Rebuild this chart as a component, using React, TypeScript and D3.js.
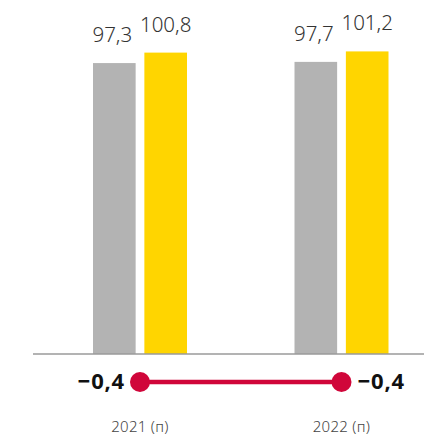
import React from "react";
import * as d3 from "d3";

const categories = ["2021 (п)", "2022 (п)"];
const seriesGray = [97.3, 97.7];
const seriesYellow = [100.8, 101.2];
const diffValues = [-0.4, -0.4];

const W = 424;
const H = 435;

const fmt = (v: number) => v.toFixed(1).replace(".", ",").replace("-", "\u2212");

export default function App() {
  const x = d3.scaleBand<string>().domain(categories).range([39.25, 442.25]).paddingInner(0).paddingOuter(0);
  const inner = d3.scaleBand<string>().domain(["g", "y"]).range([0, 94]).paddingInner(0.17);
  const y = d3.scaleLinear().domain([0, 100]).range([354, 55]);
  const colors: Record<string, string> = { g: "#b3b3b3", y: "#ffd500" };
  const lineY = 382;
  const cx = (c: string) => (x(c) as number) + x.bandwidth() / 2;
  const font = "'Noto Sans', 'Open Sans', sans-serif";

  return (
    <svg width={W} height={H} style={{ position: "absolute", left: 0, top: 0, background: "#fff" }}>
      {categories.map((c, i) => {
        const x0 = cx(c) - 47;
        const vals: [string, number][] = [["g", seriesGray[i]], ["y", seriesYellow[i]]];
        return (
          <g key={c}>
            {vals.map(([k, v]) => (
              <g key={k}>
                <rect x={x0 + (inner(k) as number)} y={y(v)} width={inner.bandwidth()} height={y(0) - y(v)} fill={colors[k]} />
                <text
                  x={x0 + (inner(k) as number) + inner.bandwidth() / 2 + (k === "g" ? -2 : 0)}
                  y={y(v) - 21}
                  textAnchor="middle"
                  fontFamily={font}
                  fontWeight={300}
                  fontSize={20.5}
                  fill="#333"
                >
                  {fmt(v)}
                </text>
              </g>
            ))}
            <text x={cx(c)} y={432} textAnchor="middle" fontFamily={font} fontWeight={300} fontSize={15} letterSpacing={0.3} fill="#444">
              {c}
            </text>
          </g>
        );
      })}
      <line x1={33} x2={424} y1={354} y2={354} stroke="#9a9a9a" strokeWidth={1.5} />
      <line x1={cx(categories[0])} x2={cx(categories[1])} y1={lineY} y2={lineY} stroke="#d0063a" strokeWidth={4.5} />
      {categories.map((c, i) => (
        <g key={c + "d"}>
          <circle cx={cx(c)} cy={lineY} r={10} fill="#d0063a" />
          <text
            x={i === 0 ? cx(c) - 15 : cx(c) + 16}
            y={lineY + 7}
            textAnchor={i === 0 ? "end" : "start"}
            fontFamily={font}
            fontWeight={700}
            fontSize={22}
            letterSpacing={0.8}
            fill="#111"
          >
            {fmt(diffValues[i])}
          </text>
        </g>
      ))}
    </svg>
  );
}
